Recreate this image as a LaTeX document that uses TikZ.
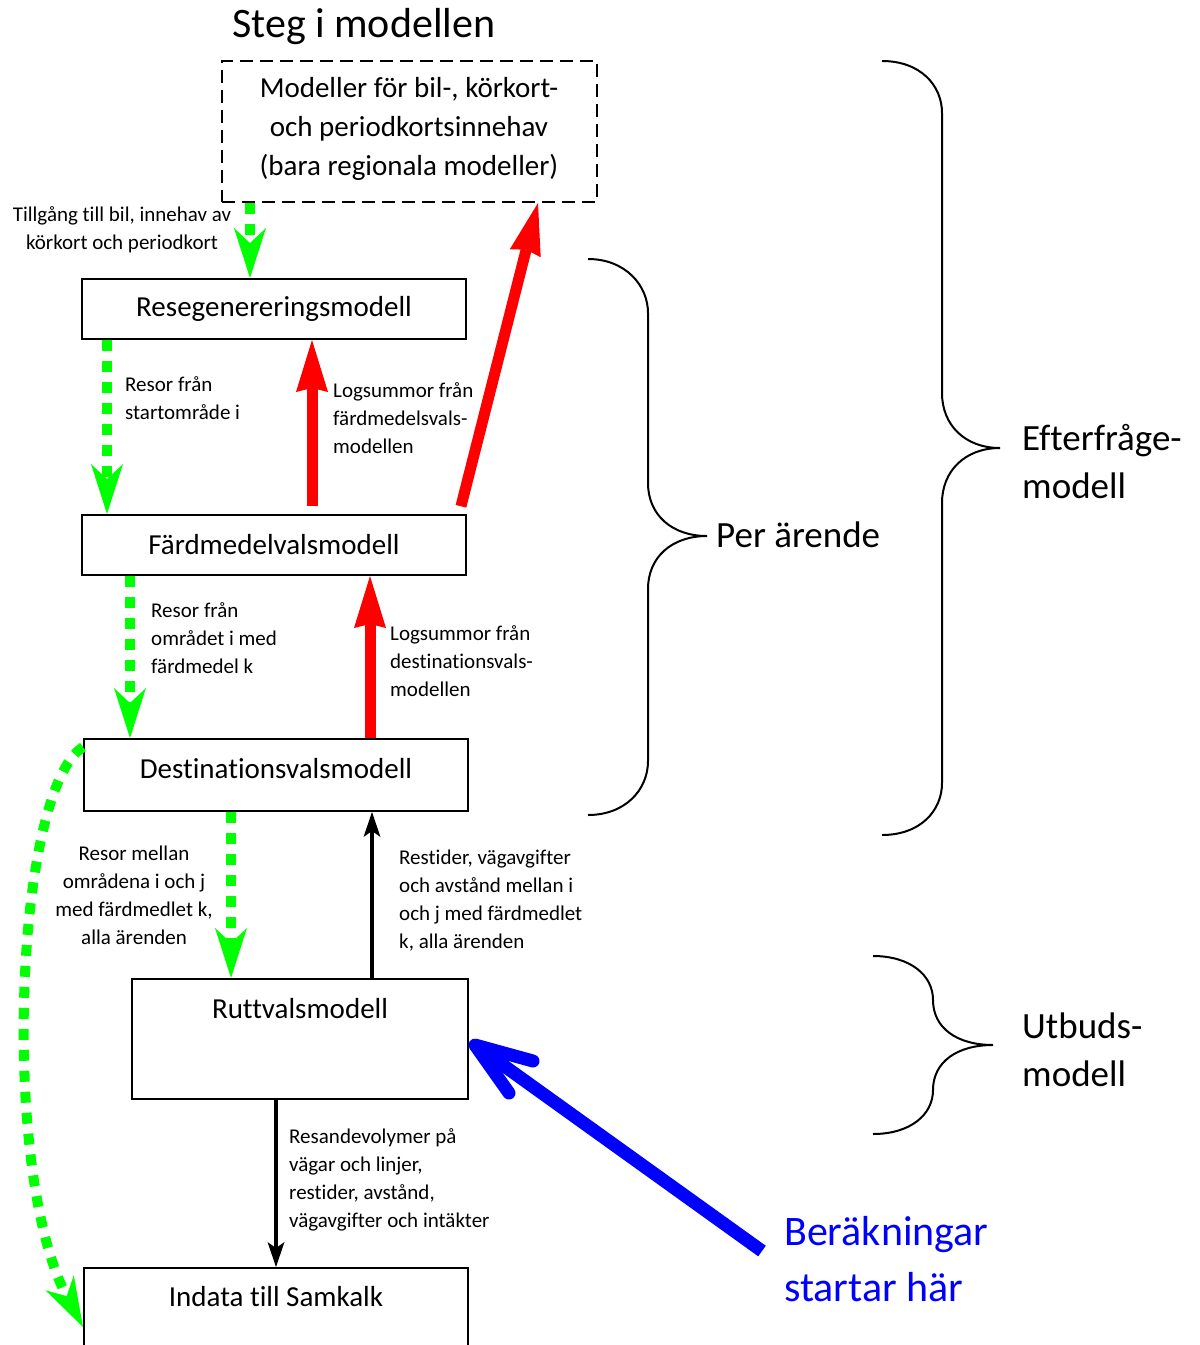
\documentclass[tikz,border=0pt]{standalone}
\usepackage{fontspec}
\setmainfont{Carlito}[Ligatures={NoCommon}]
\usetikzlibrary{arrows.meta,calc}
\definecolor{grn}{RGB}{0,255,0}
\definecolor{rd}{RGB}{255,0,0}
\definecolor{bl}{RGB}{0,0,255}
\begin{document}
\begin{tikzpicture}[x=1pt,y=-1pt,
 box/.style={draw, line width=2pt, inner sep=0pt},
 boxfont/.style={font=\fontsize{29}{39}\selectfont},
 lab/.style={font=\fontsize{21}{28}\selectfont, inner sep=0pt},
 bigfont/.style={font=\fontsize{37}{48}\selectfont, inner sep=0pt, align=left, anchor=west},
 gdash/.style={draw=grn, line width=10pt, dash pattern=on 11pt off 10pt, -{Stealth[length=50pt,width=32pt,inset=15pt,line width=0pt]}},
 rarrow/.style={draw=rd, line width=11pt, -{Stealth[length=52pt,width=32pt,inset=4pt,line width=0pt]}},
 karrow/.style={draw=black, line width=4pt, -{Stealth[length=25pt,width=17pt,inset=6pt,line width=0pt]}},
 brace/.style={draw, line width=2pt},
 blarrow/.style={draw=bl, line width=13pt},
 ]
\useasboundingbox (0,0) rectangle (1200,1345);
\fill[white] (0,0) rectangle (1200,1345);

% title
\node[font=\fontsize{42}{50}\selectfont, anchor=west, inner sep=0pt] (title) at (232,27) {Steg i modellen};

% boxes
\node[box, minimum width=375pt, minimum height=141pt, dash pattern=on 13pt off 7pt] (top) at (409.5,131.5) {};
\node[boxfont, align=center, inner sep=0pt] (toptext) at (409,129) {Modeller för bil-, körkort-\\och periodkortsinnehav\\(bara regionala modeller)};
\node[box, boxfont, minimum width=384pt, minimum height=60pt] (reseg) at (274,309) {Resegenereringsmodell};
\node[box, boxfont, minimum width=384pt, minimum height=60pt] (fard) at (274,545) {Färdmedelvalsmodell};
\node[box, minimum width=384pt, minimum height=72pt] (dest) at (276,775) {};
\node[boxfont, inner sep=0pt] (destt) at (276,769) {Destinationsvalsmodell};
\node[box, minimum width=336pt, minimum height=120pt] (rutt) at (300,1039) {};
\node[boxfont, inner sep=0pt] (ruttt) at (300,1009) {Ruttvalsmodell};
\node[box, minimum width=384pt, minimum height=120pt] (indata) at (276,1328) {};
\node[boxfont, inner sep=0pt] (indatat) at (276,1297) {Indata till Samkalk};

% green flows
\draw[gdash] (250,0 |- top.south) -- (250,0 |- reseg.north);
\draw[gdash] (107,0 |- reseg.south) -- (107,0 |- fard.north);
\draw[gdash] (130,0 |- fard.south) -- (130,0 |- dest.north);
\draw[gdash] (231,0 |- dest.south) -- (231,0 |- rutt.north);
\draw[gdash] ($(dest.west)+(0,-28)$) .. controls (15,790) and (0,1170) .. ($(indata.west)+(0,-1)$);

% red logsums
\draw[rarrow, shorten <=8pt] (312,0 |- fard.north) -- (312,0 |- reseg.south);
\draw[rarrow, shorten <=8pt] ($(fard.north east)+(-8,0)$) -- (538,0 |- top.south);
\draw[rarrow] (370,0 |- dest.north) -- (370,0 |- fard.south);

% black
\draw[karrow] (372,0 |- rutt.north) -- (372,0 |- dest.south);
\draw[karrow] (276,0 |- rutt.south) -- (276,0 |- indata.north);

% blue
\coordinate (bstart) at (762,1251);
\coordinate (btip) at ($(rutt.east)+(6,6)$);
\draw[blarrow] (bstart) -- ($(btip)!6pt!(bstart)$);
\draw[blarrow, line cap=round, line join=round] ($(btip)+(58,16)$) -- (btip) -- ($(btip)+(34,48)$);

% labels
\node[lab, align=center] (l1) at (122,230) {Tillgång till bil, innehav av\\körkort och periodkort};
\node[lab, align=left, anchor=west] (l2) at (125,398) {Resor från\\startområde i};
\node[lab, align=left, anchor=west] (l3) at (333,418) {Logsummor från\\färdmedelsvals-\\modellen};
\node[lab, align=left, anchor=west] (l4) at (151,638) {Resor från\\området i med\\färdmedel k};
\node[lab, align=left, anchor=west] (l5) at (390,661) {Logsummor från\\destinationsvals-\\modellen};
\node[lab, align=center] (l6) at (134,895) {Resor mellan\\områdena i och j\\med färdmedlet k,\\alla ärenden};
\node[lab, align=left, anchor=west] (l7) at (399,901) {Restider, vägavgifter\\och avstånd mellan i\\och j med färdmedlet\\k, alla ärenden};
\node[lab, align=left, anchor=west] (l8) at (289,1180) {Resandevolymer på\\vägar och linjer,\\restider, avstånd,\\vägavgifter och intäkter};

% braces
\draw[brace] (882,61) .. controls (920,61) and (942,85) .. (942,113) -- (942,393)
  .. controls (942,425) and (965,448) .. (1000,448)
  .. controls (965,448) and (942,471) .. (942,503) -- (942,783)
  .. controls (942,811) and (920,835) .. (882,835);
\draw[brace] (588,259) .. controls (625,259) and (648,285) .. (648,313) -- (648,483)
  .. controls (648,515) and (672,536) .. (707,536)
  .. controls (672,536) and (648,557) .. (648,589) -- (648,761)
  .. controls (648,790) and (625,815) .. (588,815);
\draw[brace] (873,956) .. controls (910,956) and (933,975) .. (933,1000)
  .. controls (933,1028) and (957,1045) .. (993,1045)
  .. controls (957,1045) and (933,1062) .. (933,1090)
  .. controls (933,1115) and (910,1134) .. (873,1134);

\node[bigfont] (eft) at (1022,462) {Efterfråge-\\modell};
\node[bigfont] (per) at (716,535) {Per ärende};
\node[bigfont] (utb) at (1022,1050) {Utbuds-\\modell};
\node[font=\fontsize{42}{56}\selectfont, text=bl, inner sep=0pt, align=left, anchor=west] (ber) at (784,1259) {Beräkningar\\startar här};
\end{tikzpicture}
\end{document}
